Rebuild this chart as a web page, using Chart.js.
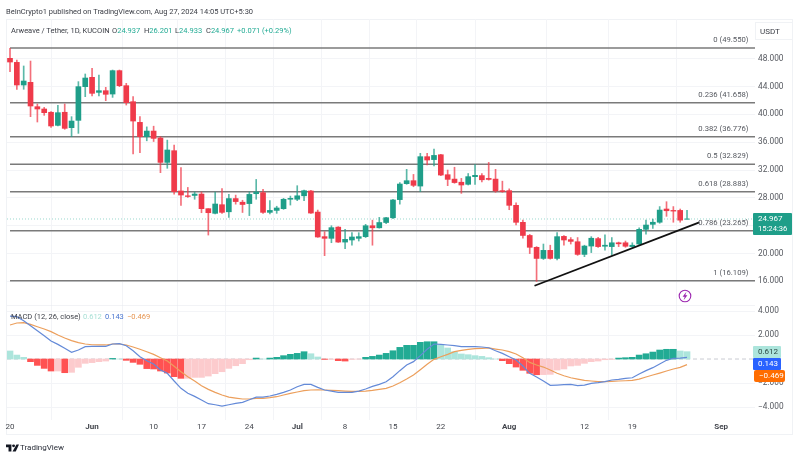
<!DOCTYPE html>
<html>
<head>
<meta charset="utf-8">
<title>Arweave / Tether</title>
<script src="https://cdn.jsdelivr.net/npm/chart.js@4"></script>
<style>
  html, body { margin: 0; padding: 0; background: #fff; }
  body { width: 800px; height: 460px; position: relative; overflow: hidden; font-family: Roboto, sans-serif; color: #3a3d45; filter: blur(0.35px); }
  canvas { position: absolute; left: 0; top: 0; }
  .txt { position: absolute; white-space: nowrap; line-height: 1; transform: translateY(-50%); font-size: 7.5px; }
  .frame { position: absolute; left: 6px; top: 19px; width: 787px; height: 416px; border: 1px solid #f0f2f5; box-sizing: border-box; }
  .tag { position: absolute; font-size: 8px; line-height: 12px; padding-left: 5px; box-sizing: border-box; }
  .grn { color: #22ab94; }
</style>
</head>
<body>
<div class="frame"></div>
<canvas id="chart" width="800" height="460"></canvas>

<div class="txt" style="left:6px;top:12px">BeInCrypto1 published on TradingView.com, Aug 27, 2024 14:05 UTC+5:30</div>
<div class="txt" style="left:11px;top:31px">Arweave / Tether, 1D, KUCOIN</div>
<div class="txt" style="left:112px;top:31px">O<span class="grn">24.937</span></div>
<div class="txt" style="left:144px;top:31px">H<span class="grn">26.201</span></div>
<div class="txt" style="left:175px;top:31px">L<span class="grn">24.933</span></div>
<div class="txt" style="left:206px;top:31px">C<span class="grn">24.967</span></div>
<div class="txt grn" style="left:237px;top:31px">+0.071 (+0.29%)</div>

<div class="txt" style="left:11px;top:317px">MACD (12, 26, close)</div>
<div class="txt" style="left:83px;top:317px;color:#a9e0d6">0.612</div>
<div class="txt" style="left:105px;top:317px;color:#4a76d0">0.143</div>
<div class="txt" style="left:127px;top:317px;color:#e69450">−0.469</div>

<div class="txt" style="left:760px;top:32px;font-size:8px">USDT</div>
<div style="position:absolute;left:755px;top:22px;width:38px;height:18px;border:1px solid #f0f2f5;box-sizing:border-box"></div>

<div class="tag" style="left:753px;top:213px;width:39px;height:22px;background:#1f9e89;color:#fff;border-radius:1px;">
  <div style="line-height:11px">24.967</div><div style="line-height:10px;font-size:7.6px">15:24:36</div>
</div>
<div class="tag" style="left:753px;top:346px;width:28px;background:#ace5dc;color:#2b4a45;border-radius:1px;">0.612</div>
<div class="tag" style="left:753px;top:358px;width:28px;background:#2962ff;color:#fff;border-radius:1px;">0.143</div>
<div class="tag" style="left:754px;top:370px;width:31px;background:#ff6d00;color:#fff;border-radius:2px;">−0.469</div>

<svg style="position:absolute;left:678px;top:289px" width="14" height="14" viewBox="0 0 14 14">
  <circle cx="7" cy="7" r="5.8" fill="#fff" stroke="#9c27b0" stroke-width="1.1"/>
  <path d="M8.4 2.8 L4.6 7.8 H6.7 L5.6 11.2 L9.4 6.2 H7.3 Z" fill="#9c27b0"/>
</svg>

<svg style="position:absolute;left:6px;top:444px" width="13" height="8" viewBox="0 0 36 20">
  <path d="M0 0 H15 V20 H7 V8 H0 Z M29 0 H36 L27 20 H18 Z" fill="#131722"/>
  <circle cx="21" cy="4" r="4" fill="#131722"/>
</svg>
<div class="txt" style="left:20px;top:448px;font-size:8px;color:#2a2e39">TradingView</div>

<script>
// Valeurs, un point par jour depuis le 20 mai
const opens = [
  48.05, 47.47, 44.22, 44.6, 41.1, 40.77, 40.3, 38.42, 40.3, 38.09,
  39.14, 43.98, 45.32, 43.16, 43.4, 42.92, 46.28, 44.12, 41.82, 38.85,
  36.79, 37.6, 36.6, 33.1, 34.78, 28.99, 28.3, 28.35, 28.55, 26.45,
  25.78, 27.02, 26.0, 27.9, 27.38, 27.18, 28.6, 28.75, 25.92, 26.2,
  26.45, 27.8, 27.8, 28.3, 28.99, 25.96, 22.43, 22.19, 23.8, 21.65,
  21.95, 22.19, 22.43, 24.0, 23.7, 24.46, 25.15, 27.75, 30.04, 30.47,
  29.7, 33.92, 33.5, 34.2, 31.33, 30.7, 30.25, 29.95, 31.05, 31.2,
  30.8, 30.7, 29.04, 29.04, 26.93, 24.49, 22.6, 20.9, 19.3, 20.46,
  19.3, 22.47, 22.0, 21.7, 19.88, 21.08, 22.15, 21.05, 21.0, 21.55,
  21.55, 21.0, 21.37, 23.48, 24.2, 24.5, 26.4, 26.2, 26.2, 24.937
];
const closes = [
  47.52, 44.22, 44.79, 41.2, 40.77, 40.24, 38.33, 40.24, 37.99, 39.04,
  43.98, 45.22, 43.02, 43.4, 42.88, 46.28, 44.12, 41.68, 39.04, 36.79,
  37.6, 36.55, 33.1, 34.88, 28.89, 28.41, 28.2, 28.55, 26.45, 25.87,
  27.12, 25.92, 27.9, 27.47, 27.05, 28.5, 28.85, 25.92, 26.2, 26.55,
  27.8, 27.93, 28.3, 29.03, 25.82, 22.38, 22.19, 23.72, 21.65, 22.04,
  22.38, 22.43, 24.0, 23.7, 24.46, 25.15, 27.7, 29.99, 30.47, 29.8,
  33.92, 33.44, 34.1, 31.28, 30.66, 30.2, 29.85, 31.05, 31.24, 30.6,
  30.65, 29.0, 28.9, 26.93, 24.49, 22.6, 20.9, 19.3, 20.46, 19.3,
  22.43, 21.95, 21.75, 19.88, 21.08, 22.2, 21.0, 21.2, 21.55, 21.4,
  21.05, 21.2, 23.48, 24.1, 24.5, 26.25, 26.15, 26.1, 24.8, 24.967
];
const highs = [
  49.48, 47.8, 46.95, 47.66, 41.49, 41.0, 40.4, 41.3, 41.49, 39.67,
  44.7, 45.8, 46.6, 45.65, 43.88, 46.37, 46.37, 44.46, 42.54, 39.67,
  38.2, 38.3, 36.8, 36.3, 35.6, 32.34, 29.5, 28.85, 28.85, 26.45,
  28.85, 29.33, 28.5, 28.4, 27.66, 28.85, 30.65, 29.23, 27.6, 26.8,
  27.93, 28.26, 29.75, 29.13, 29.08, 26.25, 23.15, 24.0, 23.87, 23.47,
  23.0, 23.0, 24.2, 24.8, 25.2, 25.2, 27.8, 30.2, 32.1, 31.37,
  34.4, 34.4, 35.0, 34.25, 32.0, 32.4, 30.8, 31.5, 32.8, 31.5,
  33.1, 32.1, 30.4, 29.3, 27.3, 24.8, 22.75, 21.0, 21.37, 21.2,
  23.0, 22.57, 22.3, 22.3, 21.2, 22.43, 22.35, 22.7, 22.3, 21.65,
  21.8, 21.55, 23.7, 24.8, 24.95, 26.75, 27.45, 26.75, 26.4, 26.201
];
const lows = [
  46.13, 43.6, 43.6, 39.67, 38.9, 39.86, 38.13, 38.33, 37.85, 36.79,
  37.27, 42.54, 42.64, 42.64, 41.97, 42.44, 43.98, 41.34, 34.3, 34.5,
  36.2, 36.1, 31.62, 32.25, 28.55, 26.93, 28.07, 27.8, 25.87, 22.66,
  25.69, 25.78, 25.2, 27.1, 25.9, 25.45, 27.8, 25.78, 25.7, 25.78,
  26.35, 26.97, 27.6, 27.6, 25.78, 22.33, 19.7, 21.56, 21.6, 20.7,
  21.2, 21.8, 22.3, 21.2, 23.65, 24.3, 25.0, 27.1, 29.95, 29.6,
  28.9, 32.72, 32.6, 31.2, 29.75, 30.1, 28.65, 29.85, 29.95, 30.3,
  30.55, 28.8, 28.8, 26.3, 24.1, 22.2, 20.0, 16.0, 19.15, 19.2,
  19.07, 21.2, 21.37, 19.74, 19.55, 20.14, 20.9, 20.5, 19.75, 21.0,
  20.9, 20.9, 21.2, 22.8, 23.6, 24.35, 25.35, 24.5, 24.5, 24.933
];
const histogram = [
  0.67, 0.33, 0.14, -0.22, -0.53, -0.78, -1.0, -1.0, -1.14, -1.11,
  -0.69, -0.36, -0.3, -0.22, -0.17, 0.05, 0.0, -0.11, -0.28, -0.44,
  -0.8, -0.83, -1.0, -1.17, -1.47, -1.61, -1.61, -1.53, -1.53, -1.42,
  -1.22, -1.06, -0.78, -0.56, -0.39, -0.06, 0.08, 0.0, 0.08, 0.14,
  0.28, 0.39, 0.47, 0.61, 0.44, 0.17, -0.03, -0.03, -0.14, -0.17,
  -0.03, -0.01, 0.14, 0.22, 0.33, 0.47, 0.69, 0.97, 1.14, 1.14,
  1.39, 1.44, 1.44, 1.17, 0.92, 0.61, 0.42, 0.36, 0.28, 0.22,
  0.11, 0.0, -0.14, -0.39, -0.67, -0.94, -1.19, -1.31, -1.3, -1.28,
  -0.92, -0.83, -0.58, -0.53, -0.36, -0.22, -0.17, -0.06, -0.03, 0.08,
  0.11, 0.14, 0.33, 0.44, 0.58, 0.75, 0.81, 0.81, 0.67, 0.612
];
const macdLine = [
  3.58, 3.53, 3.19, 2.78, 2.36, 1.94, 1.5, 1.22, 0.89, 0.56,
  0.75, 1.03, 1.06, 1.06, 1.06, 1.25, 1.28, 1.11, 0.69, 0.19,
  -0.14, -0.42, -0.92, -1.19, -1.83, -2.44, -2.86, -3.11, -3.42, -3.72,
  -3.81, -3.92, -3.81, -3.69, -3.61, -3.39, -3.17, -3.17, -3.08, -2.94,
  -2.78, -2.58, -2.31, -2.11, -2.11, -2.36, -2.58, -2.67, -2.78, -2.78,
  -2.78, -2.67, -2.5, -2.28, -2.11, -1.89, -1.47, -0.97, -0.5, -0.22,
  0.28, 0.81, 1.25, 1.22, 1.17, 1.11, 1.03, 1.03, 1.03, 1.0,
  0.94, 0.69, 0.47, 0.19, -0.08, -0.58, -1.19, -1.5, -1.83, -2.19,
  -2.17, -2.14, -2.11, -2.22, -2.17, -2.03, -1.97, -1.89, -1.75, -1.69,
  -1.61, -1.56, -1.25, -0.97, -0.72, -0.42, -0.11, 0.06, 0.08, 0.143
];
const signalLine = [
  2.83, 3.0, 3.03, 2.89, 2.69, 2.5, 2.28, 2.0, 1.75, 1.53,
  1.36, 1.25, 1.19, 1.17, 1.17, 1.25, 1.25, 1.17, 1.0, 0.81,
  0.61, 0.39, 0.11, -0.17, -0.61, -1.06, -1.47, -1.83, -2.22, -2.53,
  -2.78, -3.0, -3.17, -3.25, -3.33, -3.33, -3.28, -3.28, -3.22, -3.14,
  -3.0, -2.86, -2.75, -2.64, -2.58, -2.56, -2.58, -2.61, -2.64, -2.67,
  -2.69, -2.69, -2.67, -2.61, -2.53, -2.44, -2.25, -1.97, -1.67, -1.33,
  -0.89, -0.44, -0.03, 0.19, 0.39, 0.61, 0.72, 0.81, 0.86, 0.89,
  0.92, 0.83, 0.75, 0.61, 0.42, 0.11, -0.28, -0.5, -0.67, -0.92,
  -1.19, -1.39, -1.56, -1.67, -1.78, -1.83, -1.89, -1.89, -1.86, -1.83,
  -1.81, -1.78, -1.67, -1.5, -1.33, -1.17, -1.0, -0.83, -0.69, -0.469
];

const fibLevels = [49.55, 41.658, 36.776, 32.829, 28.883, 23.265, 16.109];
const fibLabels = ["0 (49.550)", "0.236 (41.658)", "0.382 (36.776)", "0.5 (32.829)", "0.618 (28.883)", "0.786 (23.265)", "1 (16.109)"];
const trendDays = [76.7, 100.8];
const trendPrices = [15.38, 24.49];
const lastPrice = 24.967;

const xTicks = [0, 12, 21, 28, 35, 42, 49, 56, 63, 73, 84, 91, 104];
const xTickLabels = ["20", "Jun", "10", "17", "24", "Jul", "8", "15", "22", "Aug", "12", "19", "Sep"];
const priceTicks = [16, 20, 24, 28, 32, 36, 40, 44, 48];
const priceTickLabels = ["16.000", "20.000", "", "28.000", "32.000", "36.000", "40.000", "44.000", "48.000"];
const macdTicks = [-4, -2, 2, 4];
const macdTickLabels = ["−4.000", "−2.000", "2.000", "4.000"];

// Bornes des axes
const xMin = -0.44, xMax = 108.94;
const priceMin = 12.61, priceMax = 53.7;
const macdMin = -5.08, macdMax = 4.5;

const UP = "#1f9e89", DOWN = "#ef3a4a";
const GRID = "#f3f4f7";
const FONT = "Roboto";

const days = opens.map((_, i) => i);
const candleColors = days.map((i) => (closes[i] >= opens[i] ? UP : DOWN));

// Couleur de l'histogramme selon le signe et le sens de variation
const histColors = histogram.map((v, i) => {
  const prev = i ? histogram[i - 1] : v + 1;
  if (v >= 0) return v >= prev ? "#22ab94" : "#ace5dc";
  return v < prev ? "#ff5252" : "#fccbcd";
});

const hLine = (value, axis, color, width, dash, from, to, order) => ({
  type: "line",
  yAxisID: axis,
  data: [{ x: from, y: value }, { x: to, y: value }],
  borderColor: color,
  borderWidth: width,
  borderDash: dash,
  pointRadius: 0,
  order,
});

// Labels de Fibonacci posés au dessus de chaque ligne
const fibLabelPlugin = {
  id: "fibLabels",
  afterDatasetsDraw(chart) {
    const { ctx, scales } = chart;
    ctx.save();
    ctx.font = `7.7px ${FONT}`;
    ctx.fillStyle = "#55585f";
    ctx.textAlign = "right";
    ctx.textBaseline = "middle";
    fibLevels.forEach((level, i) => {
      ctx.fillText(fibLabels[i], 748.5, scales.y.getPixelForValue(level) - 8);
    });
    ctx.restore();
  },
};

new Chart(document.getElementById("chart"), {
  type: "bar",
  data: {
    datasets: [
      ...fibLevels.map((level) => hLine(level, "y", "#7a7a7a", 1.5, [], 0, xMax, 9)),
      hLine(lastPrice, "y", "rgba(34,171,148,.45)", 1, [1, 2], xMin, xMax, 10),
      hLine(macdMax, "m", "#e6e8ee", 1, [], xMin, xMax, 10),
      hLine(0, "m", "#c9ccd2", 1, [4, 3], xMin, xMax, 10),
      {
        // Mèches
        yAxisID: "y",
        data: days.map((i) => ({ x: i, y: [lows[i], highs[i]] })),
        backgroundColor: candleColors.map((c) => c + "bb"),
        barThickness: 1,
        grouped: false,
        order: 6,
      },
      {
        // Corps des bougies
        yAxisID: "y",
        data: days.map((i) => ({ x: i, y: [opens[i], closes[i]] })),
        backgroundColor: candleColors,
        barThickness: 5,
        grouped: false,
        order: 5,
      },
      {
        yAxisID: "m",
        data: days.map((i) => ({ x: i, y: histogram[i] })),
        backgroundColor: histColors,
        barThickness: 6,
        grouped: false,
        order: 4,
      },
      {
        type: "line",
        yAxisID: "m",
        data: days.map((i) => ({ x: i, y: macdLine[i] })),
        borderColor: "#648ad8",
        borderWidth: 1.2,
        pointRadius: 0,
        order: 2,
      },
      {
        type: "line",
        yAxisID: "m",
        data: days.map((i) => ({ x: i, y: signalLine[i] })),
        borderColor: "#ec9f5c",
        borderWidth: 1.2,
        pointRadius: 0,
        order: 3,
      },
      {
        type: "line",
        yAxisID: "y",
        data: trendDays.map((d, i) => ({ x: d, y: trendPrices[i] })),
        borderColor: "#111",
        borderWidth: 1.8,
        pointRadius: 0,
        order: 1,
      },
    ],
  },
  options: {
    responsive: false,
    animation: false,
    events: [],
    layout: { padding: { left: 7, right: 5, top: 19, bottom: 25 } },
    plugins: { legend: { display: false }, tooltip: { enabled: false } },
    scales: {
      x: {
        type: "linear",
        min: xMin,
        max: xMax,
        offset: false,
        afterBuildTicks: (s) => { s.ticks = xTicks.map((value) => ({ value })); },
        afterFit: (s) => { s.height = 15; },
        grid: { color: GRID, drawTicks: false },
        border: { display: false },
        ticks: {
          autoSkip: false,
          maxRotation: 0,
          padding: 2,
          color: "#44474e",
          font: (c) => ({ family: FONT, size: 8, weight: c.tick && isNaN(xTickLabels[xTicks.indexOf(c.tick.value)]) ? "bold" : "normal" }),
          callback: (v) => xTickLabels[xTicks.indexOf(v)],
        },
      },
      y: {
        position: "right",
        stack: "panes",
        stackWeight: 286,
        min: priceMin,
        max: priceMax,
        afterBuildTicks: (s) => { s.ticks = priceTicks.map((value) => ({ value })); },
        afterFit: (s) => { s.width = 40; },
        grid: { color: GRID, drawTicks: false },
        border: { display: false },
        ticks: {
          padding: 3,
          color: "#55585f",
          font: { family: FONT, size: 8.3 },
          callback: (v) => priceTickLabels[priceTicks.indexOf(v)],
        },
      },
      m: {
        position: "right",
        stack: "panes",
        stackWeight: 115,
        min: macdMin,
        max: macdMax,
        afterBuildTicks: (s) => { s.ticks = macdTicks.map((value) => ({ value })); },
        afterFit: (s) => { s.width = 40; },
        grid: { color: GRID, drawTicks: false },
        border: { display: false },
        ticks: {
          padding: 3,
          color: "#55585f",
          font: { family: FONT, size: 8.3 },
          callback: (v) => macdTickLabels[macdTicks.indexOf(v)],
        },
      },
    },
  },
  plugins: [fibLabelPlugin],
});
</script>
</body>
</html>
